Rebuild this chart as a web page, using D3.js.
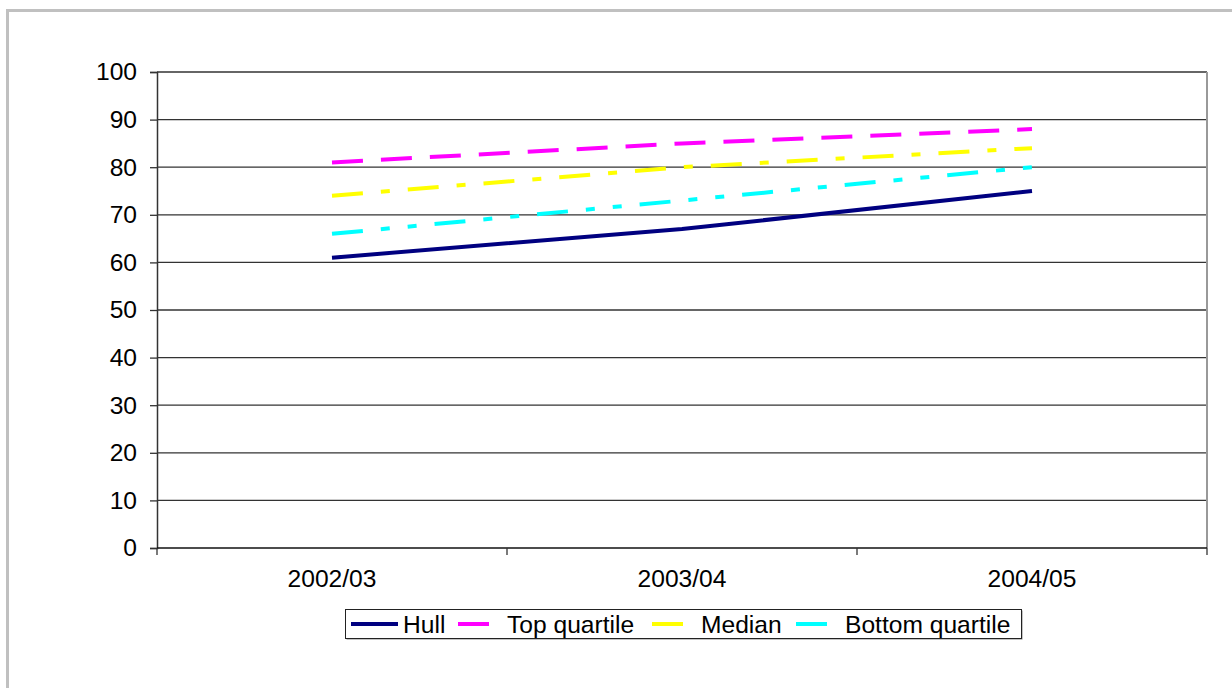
<!DOCTYPE html>
<html>
<head>
<meta charset="utf-8">
<script src="https://cdn.jsdelivr.net/npm/d3@7"></script>
<style>
  html, body { margin: 0; padding: 0; background: #fff; }
  svg { display: block; }
  text { font-family: "Liberation Sans", Arial, sans-serif; fill: #000; }
</style>
</head>
<body>
<svg id="chart" width="1232" height="688"></svg>
<script>
// Scores by year
const years = ["2002/03", "2003/04", "2004/05"];
const hull = [61, 67, 75];
const topQuartile = [81, 85, 88];
const median = [74, 80, 84];
const bottomQuartile = [66, 73, 80];
const yTicks = [0, 10, 20, 30, 40, 50, 60, 70, 80, 90, 100];

const seriesList = [
  { name: "Hull", values: hull, color: "#000080", dash: null },
  { name: "Top quartile", values: topQuartile, color: "#ff00ff", dash: "31,18" },
  { name: "Median", values: median, color: "#ffff00", dash: "31,18,9,18" },
  { name: "Bottom quartile", values: bottomQuartile, color: "#00ffff", dash: "31,18,9,18,9,18" }
];

const svg = d3.select("#chart");
const W = 1232, H = 688;
const plot = { left: 157, right: 1207, top: 72, bottom: 548 };
const FONT = 24.6;

svg.append("rect").attr("width", W).attr("height", H).attr("fill", "#fff");

// Outer chart frame
svg.append("rect")
  .attr("x", 7.5).attr("y", 10.5)
  .attr("width", W + 20).attr("height", H + 20)
  .attr("fill", "none").attr("stroke", "#c0c0c0").attr("stroke-width", 3);

const x = d3.scaleBand().domain(years).range([plot.left, plot.right]).padding(0);
const y = d3.scaleLinear().domain([0, 100]).range([plot.bottom, plot.top]);

// Horizontal gridlines
svg.append("g").selectAll("line").data(yTicks.filter(d => d > 0)).join("line")
  .attr("x1", plot.left).attr("x2", plot.right)
  .attr("y1", d => y(d)).attr("y2", d => y(d))
  .attr("stroke", "#333").attr("stroke-width", 1.3);

// Right edge of plot area
svg.append("line")
  .attr("x1", plot.right).attr("x2", plot.right)
  .attr("y1", plot.top).attr("y2", plot.bottom)
  .attr("stroke", "#999").attr("stroke-width", 2);

// Y axis
const yAxis = d3.axisLeft(y).tickValues(yTicks).tickSize(7).tickPadding(13);
const gy = svg.append("g").attr("transform", `translate(${plot.left},0)`).call(yAxis);
gy.select(".domain").attr("stroke", "#333").attr("stroke-width", 1.5);
gy.selectAll(".tick line").attr("stroke", "#333").attr("stroke-width", 1.3);
gy.selectAll(".tick text").attr("font-size", FONT).attr("font-family", "Liberation Sans, Arial, sans-serif").attr("fill", "#000");

// X axis with tick marks at category boundaries
const gx = svg.append("g").attr("transform", `translate(0,${plot.bottom})`);
gx.append("line").attr("x1", plot.left).attr("x2", plot.right)
  .attr("stroke", "#111").attr("stroke-width", 1.5);
const bounds = years.map(d => x(d)).concat([x(years[years.length - 1]) + x.bandwidth()]);
gx.selectAll("line.tk").data(bounds).join("line").attr("class", "tk")
  .attr("x1", d => d).attr("x2", d => d).attr("y1", 0).attr("y2", 7)
  .attr("stroke", "#333").attr("stroke-width", 1.3);
gx.selectAll("text").data(years).join("text")
  .attr("x", d => x(d) + x.bandwidth() / 2).attr("y", 39)
  .attr("text-anchor", "middle").attr("font-size", FONT)
  .text(d => d);

// Series lines
const line = d3.line()
  .x((d, i) => x(years[i]) + x.bandwidth() / 2)
  .y(d => y(d));

svg.append("g").selectAll("path").data(seriesList).join("path")
  .attr("d", s => line(s.values))
  .attr("fill", "none")
  .attr("stroke", s => s.color)
  .attr("stroke-width", 4)
  .attr("stroke-dasharray", s => s.dash)
  .attr("stroke-linecap", "butt")
  .attr("stroke-linejoin", "round");

// Legend
const legend = svg.append("g");
legend.append("rect")
  .attr("x", 346.5).attr("y", 610.5).attr("width", 676).attr("height", 29)
  .attr("fill", "#888");
legend.append("rect")
  .attr("x", 345.5).attr("y", 609.5).attr("width", 676).attr("height", 29)
  .attr("fill", "#fff").attr("stroke", "#222").attr("stroke-width", 1);

const legendX = [351, 458, 652, 796];
const legendY = 624;
const items = legend.selectAll("g.item").data(seriesList).join("g").attr("class", "item")
  .attr("transform", (d, i) => `translate(${legendX[i]},${legendY})`);
items.append("line")
  .attr("x1", 0).attr("x2", 47).attr("y1", 0).attr("y2", 0)
  .attr("stroke", d => d.color).attr("stroke-width", 4)
  .attr("stroke-dasharray", d => d.dash);
items.append("text")
  .attr("x", (d, i) => i === 0 ? 52 : 49).attr("y", 8.5)
  .attr("font-size", FONT)
  .text(d => d.name);
</script>
</body>
</html>
